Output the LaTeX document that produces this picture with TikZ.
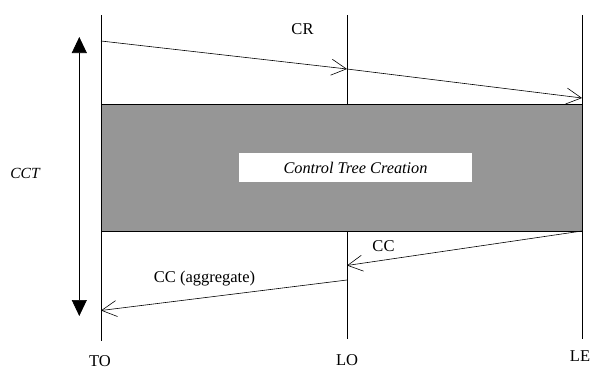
\documentclass[tikz,border=0pt]{standalone}
\usepackage{fontspec}
\setmainfont{Liberation Serif}
\usetikzlibrary{arrows.meta, positioning}
\definecolor{phasegray}{HTML}{969696}

\begin{document}
\begin{tikzpicture}[x=1pt,y=-1pt,line width=0.8pt,
    lane/.style={line width=0.9pt},
    msg/.style={-{Straight Barb[length=15pt,width=16pt,line width=0.6pt]},line width=0.6pt},
    span/.style={{Triangle[length=16pt,width=15pt]}-{Triangle[length=16pt,width=15pt]},line width=0.6pt},
    txt/.style={font=\fontsize{16.5}{19}\selectfont,inner sep=0pt}]
\useasboundingbox (0,0) rectangle (592,370);

% lifelines
\node[txt] (TO) at (100,361) {TO};
\node[txt] (LO) at (347,360) {LO};
\node[txt] (LE) at (580,356.5) {LE};
\coordinate (to top) at (101,15);  \coordinate (to bot) at (101,341);
\coordinate (lo top) at (347,15);  \coordinate (lo bot) at (347,339);
\coordinate (le top) at (582,15);  \coordinate (le bot) at (582,339);
\draw[lane] (to top) -- (to bot);
\draw[lane] (lo top) -- (lo bot);
\draw[lane] (le top) -- (le bot);

% creation phase
\draw[lane,fill=phasegray] (101,104) rectangle (582,231);
\node[txt,fill=white,minimum width=233pt,minimum height=29pt,font=\fontsize{16.3}{19}\selectfont\itshape]
  (phase) at (355.5,167.5) {Control Tree Creation};

% messages
\coordinate (cr0) at (101,41);
\coordinate (cr1) at (347,69);
\coordinate (cr2) at (582,98);
\coordinate (cc0) at (582,231);
\coordinate (cc1) at (347,265.5);
\coordinate (cc2) at (347,280);
\coordinate (cc3) at (101,310.5);
\draw[msg] (cr0) -- (cr1);
\draw[msg] (cr1) -- (cr2);
\draw[msg] (cc0) -- (cc1);
\draw[msg] (cc2) -- (cc3);
\node[txt] (cr) at (302.5,29) {CR};
\node[txt] (cc) at (383.5,246.5) {CC};
\node[txt] (ccagg) at (204.5,279) {CC (aggregate)};

% overall duration
\coordinate (cct top) at (79.3,37);
\coordinate (cct bot) at (79.3,316);
\draw[span] (cct top) -- (cct bot);
\node[txt,font=\fontsize{15.5}{18}\selectfont\itshape] (cct) at (25,173) {CCT};
\end{tikzpicture}
\end{document}
